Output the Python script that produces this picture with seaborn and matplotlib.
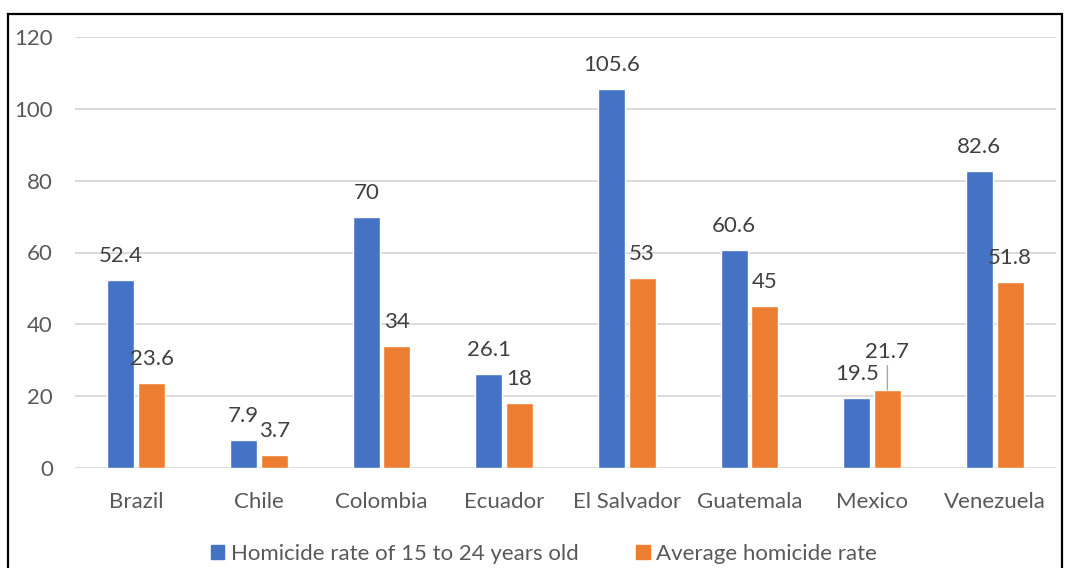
import matplotlib
matplotlib.use("Agg")
import matplotlib.pyplot as plt
import matplotlib.patches as mpatches
import seaborn as sns
import pandas as pd

# data
countries = ["Brazil", "Chile", "Colombia", "Ecuador", "El Salvador", "Guatemala", "Mexico", "Venezuela"]
youth_rate = [52.4, 7.9, 70, 26.1, 105.6, 60.6, 19.5, 82.6]
avg_rate = [23.6, 3.7, 34, 18, 53, 45, 21.7, 51.8]
series_names = ["Homicide rate of 15 to 24 years old", "Average homicide rate"]
colors = ["#4472C4", "#ED7D31"]

df = pd.DataFrame({
    "country": countries * 2,
    "value": youth_rate + avg_rate,
    "series": [series_names[0]] * len(countries) + [series_names[1]] * len(countries),
})

sns.set_theme(style="white")
plt.rcParams["font.family"] = ["Lato", "DejaVu Sans"]
FS = 16

fig = plt.figure(figsize=(10.67, 5.68), dpi=100)
ax = fig.add_axes([75 / 1067, 1 - 468 / 568, 981 / 1067, 431 / 568])

sns.barplot(data=df, x="country", y="value", hue="series", palette=colors,
            width=0.5, gap=0.12, ax=ax, legend=False, saturation=1)

ax.set_ylim(0, 120)
ax.set_yticks(range(0, 121, 20))
ax.set_xlim(-0.5, len(countries) - 0.5)
ax.grid(axis="y", color="#d9d9d9", linewidth=1.3)
ax.set_axisbelow(True)
for s in ax.spines.values():
    s.set_visible(False)
ax.set_xlabel("")
ax.set_ylabel("")
ax.tick_params(axis="y", length=0, pad=16, labelsize=FS, labelcolor="#595959")
ax.tick_params(axis="x", length=0, pad=17, labelsize=FS, labelcolor="#595959")

# data labels
for ci, cont in enumerate(ax.containers):
    for bi, bar in enumerate(cont):
        val = bar.get_height()
        x = bar.get_x() + bar.get_width() / 2
        txt = f"{val:g}"
        if countries[bi] == "Mexico" and ci == 1:
            ax.annotate(txt, xy=(x, val), xytext=(0, 20), textcoords="offset points",
                        ha="center", va="bottom", fontsize=FS, color="#404040",
                        arrowprops=dict(arrowstyle="-", color="#a6a6a6", lw=1,
                                        shrinkA=0, shrinkB=0))
        else:
            ax.annotate(txt, xy=(x, val), xytext=(0, 10), textcoords="offset points",
                        ha="center", va="bottom", fontsize=FS, color="#404040")

handles = [mpatches.Patch(color=c, label=n) for c, n in zip(colors, series_names)]
fig.legend(handles=handles, loc="center", bbox_to_anchor=(0.51, 1 - 554 / 568), ncol=2,
           frameon=False, fontsize=FS, labelcolor="#595959", handlelength=0.6,
           handleheight=0.6, handletextpad=0.3, columnspacing=2.6)

# outer border of the chart box
fig.patches.append(mpatches.Rectangle((8 / 1067, -0.05), 1054 / 1067, 1.05 - 14 / 568,
                                      transform=fig.transFigure, fill=False,
                                      edgecolor="black", linewidth=1.6))

fig.savefig("out.png", dpi=100)
